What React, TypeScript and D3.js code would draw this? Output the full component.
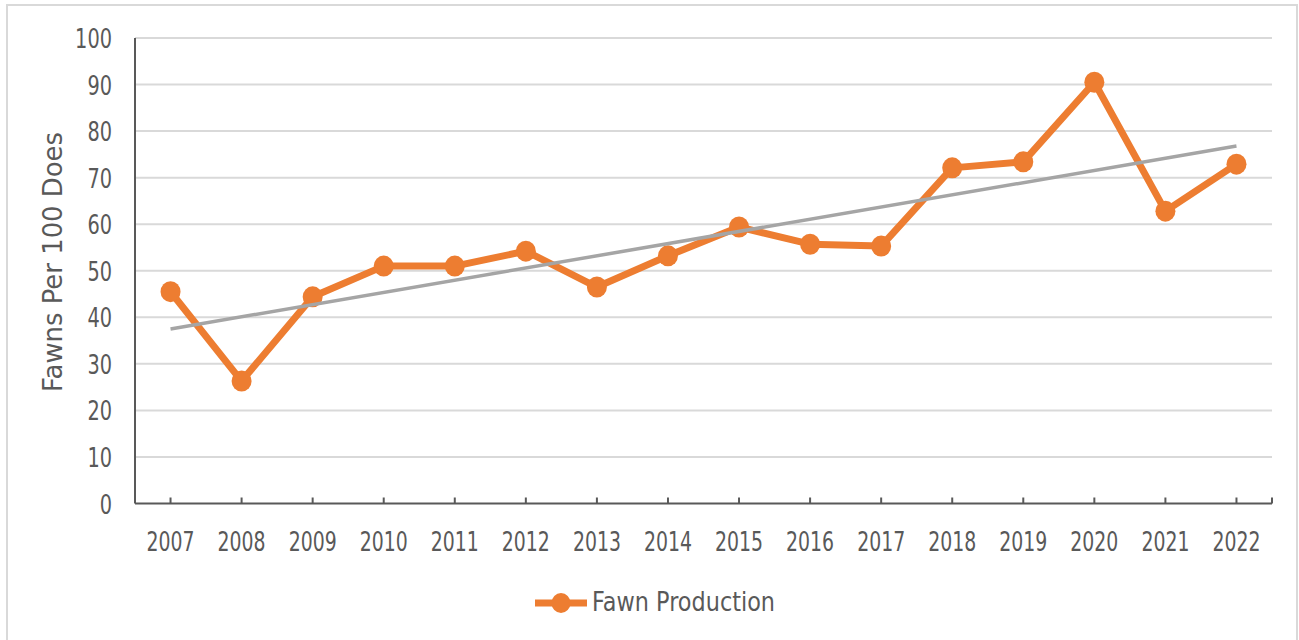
import React from "react";
import * as d3 from "d3";

const years: string[] = ["2007","2008","2009","2010","2011","2012","2013","2014","2015","2016","2017","2018","2019","2020","2021","2022"];
const fawnProduction: number[] = [45.5, 26.3, 44.4, 51.0, 51.0, 54.2, 46.5, 53.2, 59.4, 55.7, 55.3, 72.1, 73.4, 90.5, 62.8, 72.9];
const yTicks: number[] = [0, 10, 20, 30, 40, 50, 60, 70, 80, 90, 100];
const yTitle = "Fawns Per 100 Does";
const seriesName = "Fawn Production";

const W = 1299, H = 640;
const left = 135, right = 1272, top = 38, bottom = 503.5;
const ORANGE = "#ed7d31";
const GRID = "#d9d9d9";
const AXIS = "#595959";
const TEXT = "#595959";
const FONT = "'DejaVu Sans', sans-serif";

export default function App() {
  const x = d3.scaleBand<string>().domain(years).range([left, right]).paddingInner(0).paddingOuter(0);
  const cx = (d: string) => (x(d) ?? 0) + x.bandwidth() / 2;
  const y = d3.scaleLinear().domain([0, 100]).range([bottom, top]);

  const pts = fawnProduction.map((v, i) => ({ year: years[i], v, i }));
  const line = d3.line<{ year: string; v: number }>().x(d => cx(d.year)).y(d => y(d.v));

  // linear regression trendline
  const n = fawnProduction.length;
  const mx = d3.mean(pts, p => p.i) as number;
  const my = d3.mean(fawnProduction) as number;
  const sxy = d3.sum(pts, p => (p.i - mx) * (p.v - my));
  const sxx = d3.sum(pts, p => (p.i - mx) * (p.i - mx));
  const slope = sxy / sxx;
  const icpt = my - slope * mx;
  const t0 = icpt, t1 = icpt + slope * (n - 1);

  return (
    <svg width={W} height={H} style={{ position: "absolute", left: 0, top: 0, background: "#fff" }} fontFamily={FONT}>
      <rect x={7} y={5} width={1290} height={650} fill="#fff" stroke={GRID} strokeWidth={2} />
      {yTicks.filter(t => t > 0).map(t => (
        <line key={"g" + t} x1={left} x2={right} y1={y(t)} y2={y(t)} stroke={GRID} strokeWidth={2} />
      ))}
      {yTicks.map(t => (
        <text key={"yl" + t} x={112} y={y(t) + 10} textAnchor="end" fontSize={26} fill={TEXT}
          textLength={String(t).length * 12.3} lengthAdjust="spacingAndGlyphs">{t}</text>
      ))}
      {/* axes */}
      <line x1={left} x2={left} y1={top} y2={bottom} stroke={AXIS} strokeWidth={2} />
      <line x1={left} x2={right} y1={bottom} y2={bottom} stroke={AXIS} strokeWidth={2} />
      {years.map(yr => (
        <line key={"tk" + yr} x1={cx(yr)} x2={cx(yr)} y1={bottom} y2={bottom - 6} stroke={AXIS} strokeWidth={2} />
      ))}
      <line x1={right} x2={right} y1={bottom} y2={bottom - 6} stroke={AXIS} strokeWidth={2} />
      {years.map(yr => (
        <text key={"xl" + yr} x={cx(yr)} y={551} textAnchor="middle" fontSize={26} fill={TEXT}
          textLength={48} lengthAdjust="spacingAndGlyphs">{yr}</text>
      ))}
      <text transform={`translate(62,262) rotate(-90)`} textAnchor="middle" fontSize={26} fill={TEXT}
        textLength={260} lengthAdjust="spacingAndGlyphs">{yTitle}</text>
      {/* series */}
      <path d={line(pts) ?? ""} fill="none" stroke={ORANGE} strokeWidth={7} strokeLinejoin="round" />
      {pts.map(p => (
        <ellipse key={"m" + p.year} cx={cx(p.year)} cy={y(p.v)} rx={10} ry={10.5} fill={ORANGE} />
      ))}
      {/* trendline */}
      <line x1={cx(years[0])} x2={cx(years[n - 1])} y1={y(t0)} y2={y(t1)} stroke="#a5a5a5" strokeWidth={3.5} />
      {/* legend */}
      <line x1={535} x2={587} y1={603} y2={603} stroke={ORANGE} strokeWidth={7} />
      <ellipse cx={561} cy={603} rx={9.5} ry={10} fill={ORANGE} />
      <text x={592} y={611} fontSize={26} fill={TEXT} textLength={183} lengthAdjust="spacingAndGlyphs">{seriesName}</text>
    </svg>
  );
}
